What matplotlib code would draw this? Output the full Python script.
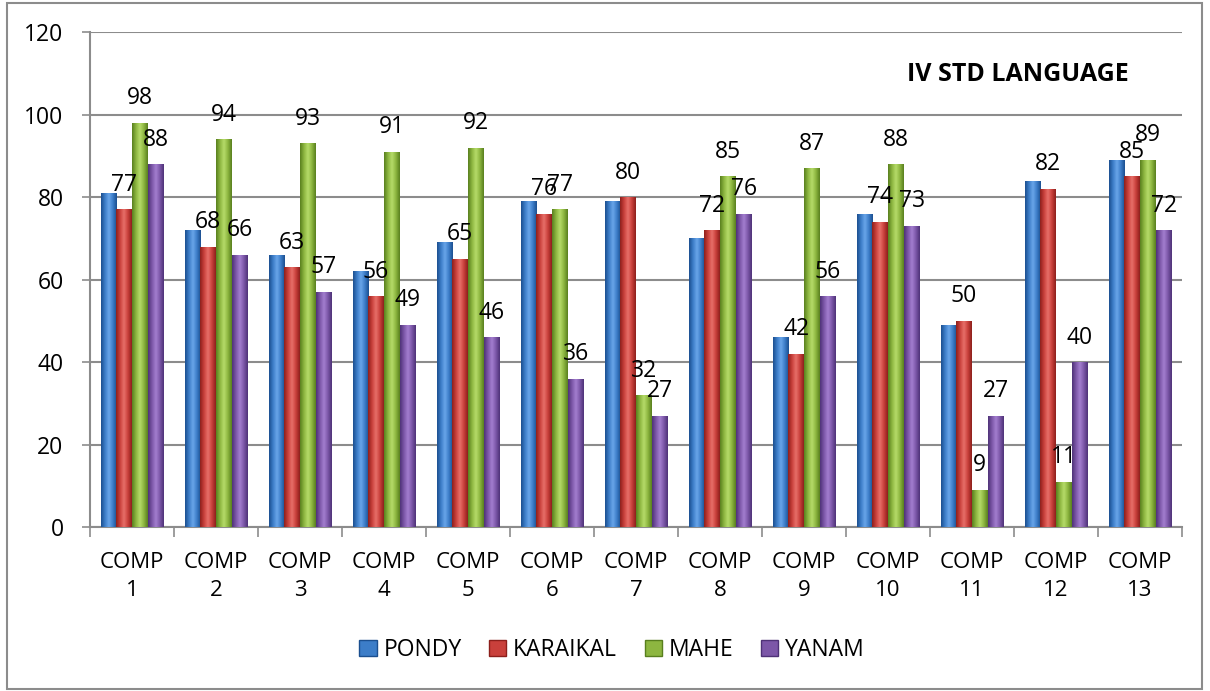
import numpy as np
import matplotlib.pyplot as plt
from matplotlib.patches import Patch, Rectangle
from matplotlib.colors import LinearSegmentedColormap

plt.rcParams['font.family'] = ['Open Sans', 'DejaVu Sans']

categories = ["COMP\n%d" % i for i in range(1, 14)]
series = ["PONDY", "KARAIKAL", "MAHE", "YANAM"]
pondy = [81, 72, 66, 62, 69, 79, 79, 70, 46, 76, 49, 84, 89]
karaikal = [77, 68, 63, 56, 65, 76, 80, 72, 42, 74, 50, 82, 85]
mahe = [98, 94, 93, 91, 92, 77, 32, 85, 87, 88, 9, 11, 89]
yanam = [88, 66, 57, 49, 46, 36, 27, 76, 56, 73, 27, 40, 72]
values = [pondy, karaikal, mahe, yanam]
labelled = [False, True, True, True]

# base colour + dark/light for the cylinder shading
colors = ["#3c7dc8", "#c9403b", "#8db640", "#7c57a8"]
darks = ["#1b4f8f", "#8c1f1b", "#587f1e", "#4e3277"]
lights = ["#6aa6ea", "#e8706a", "#b6dc6a", "#a47fd0"]

fig = plt.figure(figsize=(12.1, 6.91), dpi=100)
ax = fig.add_axes([90/1210, 1 - 527/691, (1182-90)/1210, (527-32)/691])

x = np.arange(len(categories))
w = 0.1875
grad = np.linspace(0, 1, 64).reshape(1, -1)

for k, vals in enumerate(values):
    cmap = LinearSegmentedColormap.from_list(
        "c%d" % k, [darks[k], colors[k], lights[k], colors[k], darks[k]])
    pos = x + (k - 1.5) * w
    bars = ax.bar(pos, vals, width=w, color=colors[k], zorder=2)
    for b in bars:
        im = ax.imshow(grad, extent=[b.get_x(), b.get_x() + w, 0, b.get_height()],
                       aspect='auto', cmap=cmap, zorder=3, interpolation='bicubic')
        im.set_clip_path(b)
    if labelled[k]:
        for p, v in zip(pos, vals):
            ax.annotate(str(v), (p, v), xytext=(0, 9), textcoords='offset points',
                        ha='center', va='bottom', fontsize=16.5, zorder=5)

ax.set_xlim(-0.5, len(categories) - 0.5)
ax.set_ylim(0, 120)
ax.set_yticks(range(0, 121, 20))
ax.grid(axis='y', color='#8c8c8c', linewidth=1.5, zorder=0)
ax.set_axisbelow(True)

ax.set_xticks(x)
ax.set_xticklabels(categories, fontsize=16, linespacing=1.45)
ax.set_xticks(np.arange(-0.5, len(categories), 1), minor=True)
ax.tick_params(axis='x', which='major', length=0, pad=18)
ax.tick_params(axis='x', which='minor', length=7, color='#8c8c8c', width=1.2)
ax.tick_params(axis='y', labelsize=16.5, length=6, color='#8c8c8c', width=1.2, pad=13)

for s in ['top', 'right']:
    ax.spines[s].set_visible(False)
for s in ['left', 'bottom']:
    ax.spines[s].set_color('#8c8c8c')
    ax.spines[s].set_linewidth(1.5)

ax.text(0.85, 0.915, "IV STD LANGUAGE", transform=ax.transAxes, ha='center',
        va='center', fontsize=18, fontweight='bold')

handles = [Patch(facecolor=c, edgecolor=d) for c, d in zip(colors, darks)]
fig.legend(handles, series, loc='center', bbox_to_anchor=(612/1210, 1 - 650/691),
           ncol=4, frameon=False, fontsize=16.5, handlelength=0.75, handleheight=0.75,
           handletextpad=0.3, columnspacing=1.2)

fig.patches.append(Rectangle((7/1210, 2/691), 1195/1210, 686/691, fill=False,
                             edgecolor='#8c8c8c', linewidth=1.5,
                             transform=fig.transFigure))

fig.savefig("out.png", dpi=100)
